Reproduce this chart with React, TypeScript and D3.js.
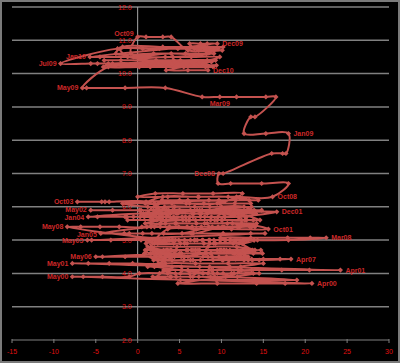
import React from "react";
import * as d3 from "d3";

const W = 400;
const H = 363;

const xTicks = [-15, -10, -5, 0, 5, 10, 15, 20, 25, 30];
const yTicks = [2, 3, 4, 5, 6, 7, 8, 9, 10, 11, 12];

const years = [2000, 2001, 2002, 2003, 2004, 2005, 2006, 2007, 2008, 2009, 2010];

const rate2000 = [4.0, 4.1, 4.0, 3.7, 3.9, 4.0, 4.0, 4.1, 3.9, 3.8, 3.9, 3.9];
const weeks2000 = [[6.2, 9.0, 11.5, 13.8], [12.0, 8.5, 5.3, 3.1], [4.5, 7.8, 10.2, 14.5], [4.8, 9.5, 14.2, 17.6, 20.8], [-7.8, -6.5, -4.2, -1.0], [0.2, 3.6, 6.8, 9.5], [11.2, 8.4, 5.1, 2.6], [3.8, 6.0, 8.8, 12.4], [10.5, 7.3, 4.6, 1.8], [5.1, 9.4, 14.0, 19.0], [9.2, 6.6, 4.0, 2.4], [3.9, 6.3, 8.7, 11.9]];

const rate2001 = [4.2, 4.2, 4.3, 4.1, 4.3, 4.5, 4.6, 4.9, 5.0, 5.33, 5.5, 5.85];
const weeks2001 = [[2.0, 5.2, 8.6, 12.3], [11.0, 7.4, 4.1, 1.2], [3.3, 6.9, 10.8, 15.0], [9.0, 13.6, 17.2, 20.5, 24.2], [-7.8, -5.9, -3.4, -0.6, 2.5], [4.4, 7.8, 10.6, 13.2], [11.6, 8.0, 5.2, 2.3], [1.0, 4.3, 7.9, 11.4], [12.8, 9.1, 5.6, 2.2], [3.6, 7.0, 11.2, 15.6], [12.4, 8.3, 4.5, 1.6], [5.0, 9.2, 13.1, 16.6]];

const rate2002 = [5.7, 5.7, 5.7, 5.9, 5.9, 5.8, 5.8, 5.7, 5.7, 5.7, 5.9, 6.0];
const weeks2002 = [[12.2, 7.5, 3.0, -0.5], [1.5, 5.3, 8.8, 12.0], [10.4, 6.2, 2.6, 0.3], [3.4, 7.7, 11.5, 14.8], [-5.6, -3.0, 0.4, 4.2], [6.5, 9.8, 12.6, 14.1], [11.3, 7.4, 3.9, 1.0], [2.2, 5.7, 9.6, 13.0], [12.1, 8.0, 4.3, 0.8], [-1.5, 2.8, 6.6, 10.4], [13.5, 9.4, 5.0, 1.9], [3.2, 6.8, 10.0, 13.6]];

const rate2003 = [5.8, 5.9, 5.9, 6.0, 6.1, 6.4, 6.3, 6.2, 6.2, 6.15, 5.9, 5.8];
const weeks2003 = [[1.4, 4.8, 8.3, 12.0], [10.9, 7.1, 3.5, 0.2], [2.6, 6.3, 9.9, 13.4], [12.7, 8.6, 4.4, 1.2], [-1.8, 2.0, 5.8, 9.5], [12.5, 9.0, 5.4, 2.1], [0.0, 3.6, 7.2, 10.8], [13.3, 9.7, 6.0, 2.9], [5.0, 8.5, 11.7, 14.4], [-7.2, -4.3, -3.9, -3.4, 1.0], [3.7, 7.4, 11.0, 13.9], [10.2, 6.7, 2.8, 0.4]];

const rate2004 = [5.7, 5.6, 5.8, 5.6, 5.6, 5.6, 5.5, 5.4, 5.4, 5.5, 5.4, 5.4];
const weeks2004 = [[-5.9, -4.8, -1.3, 2.6], [5.8, 9.2, 12.4, 14.6], [11.5, 7.6, 3.9, 0.7], [2.3, 6.1, 10.0, 13.8], [-1.2, 1.9, 5.4, 8.7], [12.8, 9.5, 6.2, 3.0], [0.9, 4.6, 8.0, 11.3], [13.6, 10.1, 6.5, 2.7], [0.5, 3.8, 7.6, 11.9], [14.2, 10.7, 7.0, 3.3], [1.1, 4.9, 8.5, 12.2], [13.4, 9.6, 5.9, 2.0]];

const rate2005 = [5.2, 5.4, 5.2, 5.2, 5.0, 5.0, 5.0, 4.9, 5.0, 5.0, 5.0, 4.9];
const weeks2005 = [[-4.4, -1.6, 1.7, 5.3], [8.9, 12.1, 14.0, 10.3], [6.6, 3.1, 0.6, -1.0], [6.4, 10.2, 13.5, 15.2], [-6.0, -5.5, -3.2, 0.4, 3.6], [6.8, 9.9, 12.7, 14.3], [11.1, 7.8, 4.5, 1.3], [2.4, 5.9, 9.3, 12.6], [13.9, 10.5, 7.1, 3.8], [1.0, 4.2, 7.7, 11.0], [13.0, 9.8, 6.3, 2.5], [1.8, 5.1, 8.6, 12.1]];

const rate2006 = [4.7, 4.8, 4.7, 4.7, 4.5, 4.6, 4.7, 4.7, 4.5, 4.4, 4.5, 4.4];
const weeks2006 = [[13.5, 9.9, 6.6, 3.4], [1.2, 4.7, 8.4, 11.8], [14.0, 10.6, 7.2, 3.9], [2.1, 6.0, 10.3, 14.7], [-5.0, -4.2, -1.5, 2.0, 5.6], [8.2, 11.4, 13.8, 14.9], [11.0, 7.4, 4.0, 1.1], [3.5, 6.9, 10.0, 13.1], [11.8, 8.4, 5.2, 2.6], [4.1, 7.5, 10.9, 13.7], [12.3, 8.9, 5.5, 2.2], [3.0, 6.6, 10.1, 13.2]];

const rate2007 = [4.6, 4.5, 4.4, 4.43, 4.4, 4.6, 4.7, 4.6, 4.7, 4.7, 4.7, 5.0];
const weeks2007 = [[1.6, 5.2, 8.8, 12.4], [13.1, 9.7, 6.0, 2.8], [1.9, 5.5, 9.0, 12.7], [11.7, 13.6, 15.0, 17.0, 18.3], [14.5, 10.2, 6.3, 2.4], [0.8, 4.4, 8.1, 11.6], [13.4, 9.8, 6.4, 3.1], [1.5, 5.0, 8.7, 12.3], [13.7, 10.3, 6.9, 3.6], [0.9, 4.6, 8.2, 11.9], [13.2, 9.5, 5.8, 2.3], [1.3, 4.9, 8.5, 12.6]];

const rate2008 = [5.0, 4.9, 5.07, 5.0, 5.4, 5.6, 5.8, 6.1, 6.1, 6.3, 6.7, 7.0];
const weeks2008 = [[13.9, 10.4, 6.8, 3.2], [2.0, 5.6, 9.1, 12.5], [9.9, 13.5, 17.9, 20.6, 22.5], [18.0, 13.2, 8.6, 4.1], [-8.4, -6.8, -4.5, -2.2, 1.6], [3.4, 6.9, 10.1, 13.0], [12.0, 8.3, 4.6, 1.2], [2.5, 6.2, 9.8, 13.5], [11.6, 7.9, 4.1, 0.9], [3.0, 7.3, 11.8, 16.1], [18.0, 14.8, 11.1, 9.6], [9.7, 10.2]];

const rate2009 = [7.6, 8.2, 8.7, 9.3, 9.57, 10.2, 10.3, 10.75, 10.6, 11.1, 10.7, 10.9];
const weeks2009 = [[16.0, 17.3, 17.7], [18.0, 15.3, 12.7], [13.5, 14.0], [16.5, 15.3, 11.8, 9.8, 7.7], [3.3, -1.5, -6.1, -6.6], [-3.5, 1.5, 5.5, 9.0], [7.8, 2.5, -3.5, -4.8, -5.6, -9.2], [-2.4, 2.6, 6.8, 9.6], [8.2, 4.0, -0.8], [0.0, 1.0, 3.0, 4.0], [6.0, 8.7, 10.1, 7.3], [6.2, 7.5, 8.3, 9.5]];

const rate2010 = [10.5, 10.6, 10.8, 10.75, 10.5, 10.4, 10.4, 10.3, 10.2, 10.25, 10.35, 10.1];
const weeks2010 = [[-5.7, -4.5, -0.5, 4.2], [9.1, 5.7, 1.9, -2.6], [-1.8, 3.0, 7.2, 10.2], [8.6, 4.8, 0.6, -2.1], [-1.2, 3.3, 6.4, 9.8], [8.3, 4.3, 0.9, -4.0], [-2.0, 2.2, 5.1, 9.3], [7.2, 4.1, 1.0, -3.0], [-4.1, 0.2, 3.4, 8.1], [9.4, 6.2, 2.0, -3.2], [1.2, 4.4, 7.3, 8.8], [3.4, 6.0, 8.4]];

const rates = [rate2000, rate2001, rate2002, rate2003, rate2004, rate2005, rate2006, rate2007, rate2008, rate2009, rate2010];
const weeks = [weeks2000, weeks2001, weeks2002, weeks2003, weeks2004, weeks2005, weeks2006, weeks2007, weeks2008, weeks2009, weeks2010];

const labelText = ["Apr00", "May00", "Apr01", "May01", "Oct01", "Dec01", "May02", "Oct03", "Jan04", "Jan05", "May05", "May06", "Apr07", "Mar08", "May08", "Oct08", "Dec08", "Jan09", "Mar09", "May09", "Jul09", "Oct09", "Dec09", "Jan10", "Dec10"];
const labelYear = [2000, 2000, 2001, 2001, 2001, 2001, 2002, 2003, 2004, 2005, 2005, 2006, 2007, 2008, 2008, 2008, 2008, 2009, 2009, 2009, 2009, 2009, 2009, 2010, 2010];
const labelRow = [3, 4, 3, 4, 9, 11, 4, 9, 0, 0, 4, 4, 3, 2, 4, 9, 11, 1, 3, 4, 6, 9, 11, 0, 11];
const labelPoint = [4, 0, 4, 0, 3, 3, 0, 0, 0, 0, 0, 0, 4, 4, 0, 3, 0, 0, 3, 3, 5, 0, 3, 0, 2];
const labelSide = ["R", "L", "R", "L", "R", "R", "L", "L", "L", "L", "L", "L", "R", "R", "L", "R", "L", "R", "B", "L", "L", "L", "R", "L", "R"];
const labelShift = [0, 0, 0, 0, 0, 0, -0.6, 0, 0.6, 0.8, 0.4, 0, 0, 0, -0.6, 0, 0, 0, 0, 0, 0, -3.5, 0, 0, 0];

const LINE = "#C4524F";
const LABEL = "#CC2828";
const TICK = "#E01010";
const GRID = "#808080";
const FONT = "'Liberation Sans', Arial, sans-serif";

type Pt = { x: number; y: number };

export default function App() {
  const x = d3.scaleLinear().domain([-15, 30]).range([12, 389]);
  const y = d3.scaleLinear().domain([2, 12]).range([340, 7]);

  const pts: Pt[] = [];
  years.forEach((_, yi) => {
    rates[yi].forEach((r, mi) => {
      weeks[yi][mi].forEach((wx) => pts.push({ x: wx, y: r }));
    });
  });

  const line = d3
    .line<Pt>()
    .x((d) => x(d.x))
    .y((d) => y(d.y))
    .curve(d3.curveCatmullRom.alpha(0.5));

  const r = 2.6;
  const diamond = `M0,${-r}L${r},0L0,${r}L${-r},0Z`;

  const labels = labelText.map((t, i) => {
    const yi = years.indexOf(labelYear[i]);
    const px = x(weeks[yi][labelRow[i]][labelPoint[i]]);
    const py = y(rates[yi][labelRow[i]]);
    const side = labelSide[i];
    let lx = px, ly = py + 2.5 + labelShift[i], anchor = "middle";
    if (side === "L") { lx = px - 4; anchor = "end"; }
    if (side === "R") { lx = px + 5; anchor = "start"; }
    if (side === "B") { ly = py + 9.5; }
    return { t, lx, ly, anchor };
  });

  return (
    <svg width={W} height={H} style={{ position: "absolute", left: 0, top: 0, display: "block" }}>
      <rect x={0} y={0} width={W} height={H} fill="#000" />
      <rect x={1} y={1} width={W - 2} height={H - 2} fill="none" stroke="#7a7a7a" strokeWidth={2} />
      {yTicks.filter((t) => t > 2).map((t) => (
        <line key={"g" + t} x1={x(-15)} x2={x(30)} y1={y(t)} y2={y(t)} stroke={GRID} strokeWidth={1.5} />
      ))}
      <line x1={x(0)} x2={x(0)} y1={y(12)} y2={y(2)} stroke="#a8a8a8" strokeWidth={1} />
      <line x1={x(-15)} x2={x(30)} y1={y(2)} y2={y(2)} stroke={GRID} strokeWidth={1.2} />
      {xTicks.map((t) => (
        <line key={"t" + t} x1={x(t)} x2={x(t)} y1={y(2) - 1} y2={y(2) + 3} stroke={GRID} strokeWidth={1} />
      ))}
      {yTicks.map((t) => (
        <text key={"yl" + t} x={x(0) - 6} y={y(t) + 2.5} fill={TICK} fontSize={7} fontFamily={FONT} textAnchor="end">
          {d3.format(".1f")(t)}
        </text>
      ))}
      {xTicks.map((t) => (
        <text key={"xl" + t} x={x(t)} y={y(2) + 14} fill={TICK} fontSize={7} fontFamily={FONT} textAnchor="middle">
          {t}
        </text>
      ))}
      <path d={line(pts) || ""} fill="none" stroke={LINE} strokeWidth={2} strokeLinejoin="round" />
      {pts.map((p, i) => (
        <path key={"m" + i} d={diamond} transform={`translate(${x(p.x)},${y(p.y)})`} fill={LINE} />
      ))}
      {labels.map((l) => (
        <text key={l.t} x={l.lx} y={l.ly} fill={LABEL} fontSize={7} fontWeight="bold" fontFamily={FONT} textAnchor={l.anchor as any}>
          {l.t}
        </text>
      ))}
    </svg>
  );
}
